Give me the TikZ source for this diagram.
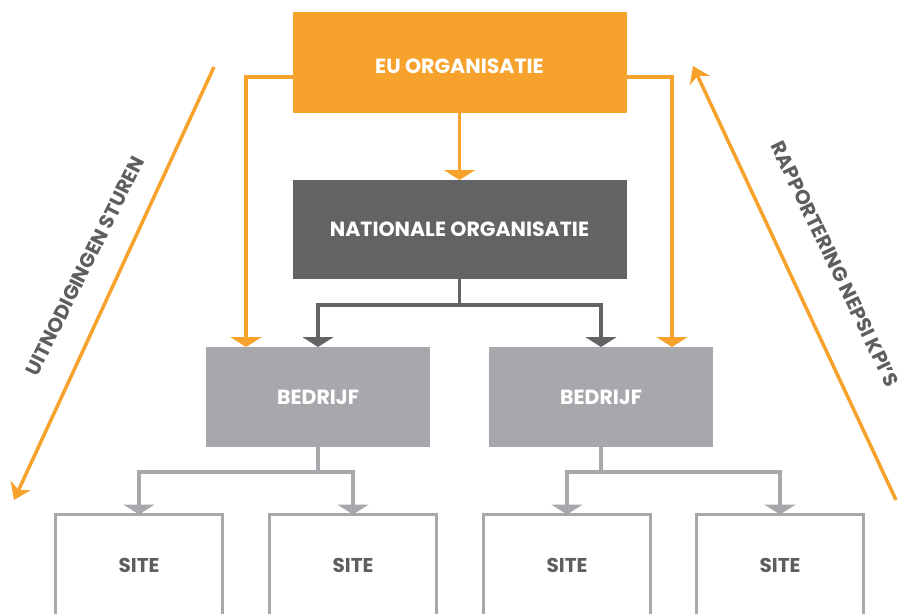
\documentclass[tikz,border=0pt]{standalone}
\usepackage{fontspec}
\setmainfont{Poppins}
\usetikzlibrary{arrows.meta,calc}
\definecolor{eoorange}{HTML}{F6A22D}
\definecolor{eodark}{HTML}{636365}
\definecolor{eogray}{HTML}{A7A8AB}
\definecolor{eotext}{HTML}{5E5E60}
\begin{document}
\begin{tikzpicture}[x=1pt,y=-1pt,
  box/.style={rectangle,inner sep=0pt,outer sep=0pt,font=\bfseries\fontsize{20.5}{24}\selectfont,text=white},
  eubox/.style={box,fill=eoorange,minimum width=334pt,minimum height=101pt,text height=22pt,text depth=0pt},
  natbox/.style={box,fill=eodark,minimum width=334pt,minimum height=99pt},
  bbox/.style={box,fill=eogray,minimum width=224pt,minimum height=100pt},
  sitebox/.style={rectangle,inner sep=0pt,outer sep=0pt,draw=eogray,line width=3pt,fill=white,minimum width=167pt,minimum height=101pt,font=\bfseries\fontsize{20}{24}\selectfont,text=eotext},
  oarrow/.style={draw=eoorange,line width=3.5pt,-{Triangle[width=31pt,length=10pt]}},
  darrow/.style={draw=eodark,line width=3.5pt,-{Triangle[width=31pt,length=10pt]}},
  garrow/.style={draw=eogray,line width=3.5pt,-{Triangle[width=31pt,length=10pt]}},
  diag/.style={draw=eoorange,line width=3.5pt,-{Stealth[width=22pt,length=16pt,inset=5pt]}},
  diaglabel/.style={font=\bfseries\fontsize{20}{24}\selectfont,text=eotext,inner sep=0pt}
]
\clip (0,0) rectangle (904,613);
\useasboundingbox (0,0) rectangle (904,613);
\fill[white] (0,0) rectangle (904,613);

\node[eubox] (EU) at (459.5,62.5) {EU ORGANISATIE};
\node[natbox] (NAT) at (459.5,229.5) {NATIONALE ORGANISATIE};
\node[bbox] (B1) at (318,397) {BEDRIJF};
\node[bbox] (B2) at (601,397) {BEDRIJF};
\node[sitebox] (S1) at (139,565) {SITE};
\node[sitebox] (S2) at (353,565) {SITE};
\node[sitebox] (S3) at (567,565) {SITE};
\node[sitebox] (S4) at (780,565) {SITE};

% EU connectors
\draw[oarrow] (EU.south) -- (NAT.north);
\draw[oarrow] ([yshift=-14.5pt]EU.west) -| ([xshift=40pt]B1.north west);
\draw[oarrow] ([yshift=-14.5pt]EU.east) -| ([xshift=-41pt]B2.north east);

% National connectors
\draw[darrow] (NAT.south) -- ++(0,26) -| (B1.north);
\draw[darrow] (NAT.south) -- ++(0,26) -| (B2.north);

% Bedrijf connectors
\draw[garrow] (B1.south) -- ++(0,25) -| (S1.north);
\draw[garrow] (B1.south) -- ++(0,25) -| (S2.north);
\draw[garrow] (B2.south) -- ++(0,25) -| (S3.north);
\draw[garrow] (B2.south) -- ++(0,25) -| (S4.north);

% diagonal arrows
\coordinate (LA) at (214,67);
\coordinate (LB) at (14,500);
\coordinate (RA) at (896,500);
\coordinate (RB) at (693,66);
\draw[diag] (LA) -- (LB);
\draw[diag] (RA) -- (RB);

\node[diaglabel,rotate=63.5] (TL) at (85,266) {UITNODIGINGEN STUREN};
\node[diaglabel,rotate=-64.3] (TR) at (835,264) {RAPPORTERING NEPSI KPI’S};
\end{tikzpicture}
\end{document}
